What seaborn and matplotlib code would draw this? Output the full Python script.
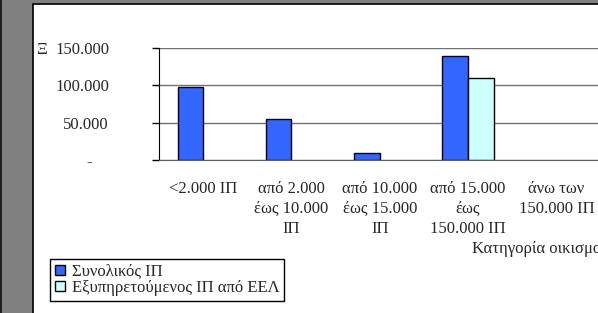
import pandas as pd
import matplotlib
matplotlib.use('Agg')
import matplotlib.pyplot as plt
import matplotlib.patches as mpatches
import seaborn as sns

# Data
categories = ['<2.000 ΙΠ', 'από 2.000\nέως 10.000\nΙΠ', 'από 10.000\nέως 15.000\nΙΠ',
              'από 15.000\nέως\n150.000 ΙΠ', 'άνω των\n150.000 ΙΠ']
total_pe = [97500, 54500, 9500, 139800, None]
served_pe = [None, None, None, 109400, None]
series_names = ['Συνολικός ΙΠ', 'Εξυπηρετούμενος ΙΠ από ΕΕΛ']
y_ticks = [0, 50000, 100000, 150000]
y_tick_labels = ['-    ', '50.000', '100.000', '150.000']

df = pd.DataFrame({
    'cat': categories * 2,
    'value': total_pe + served_pe,
    'series': [series_names[0]] * 5 + [series_names[1]] * 5,
})

sns.set_style('white')
plt.rcParams['font.family'] = ['Liberation Serif', 'DejaVu Serif']
plt.rcParams['font.size'] = 12

W, H = 598, 313
fig = plt.figure(figsize=(W / 100, H / 100), dpi=100)
fig.patch.set_facecolor('#808080')

# white chart area with dark border (screenshot frame)
fig.patches.append(mpatches.Rectangle((32.5 / W, -0.1), 1.1, 1.1 - 4.5 / H, transform=fig.transFigure,
                                      facecolor='white', edgecolor='black', linewidth=1.2, zorder=-10))
fig.patches.append(mpatches.Rectangle((0, 0), 1.5 / W, 1, transform=fig.transFigure,
                                      facecolor='#202020', edgecolor='none', zorder=-10))

ax = fig.add_axes([159 / W, 1 - 160 / H, (600.5 - 159) / W, (160 - 48) / H])
ax.set_facecolor('none')

sns.barplot(data=df, x='cat', y='value', hue='series', order=categories,
            hue_order=series_names, palette=['#3366FF', '#CCFFFF'], saturation=1,
            edgecolor='black', linewidth=1, width=0.58, errorbar=None, ax=ax)

ax.set_ylim(0, 150000)
ax.set_xlim(-0.5, 4.5)
ax.set_yticks(y_ticks)
ax.set_yticklabels(y_tick_labels)
ax.set_xticks(range(5))
ax.set_xticks([i - 0.5 for i in range(6)], minor=True)
ax.tick_params(axis='x', which='major', length=0, pad=15)
ax.tick_params(axis='x', which='minor', length=5, direction='out', color='black', width=1)
ax.tick_params(axis='y', length=5, direction='out', color='black', width=1, pad=31, left=True)
for lab in ax.get_xticklabels():
    lab.set_linespacing(1.32)

ax.yaxis.grid(True, color='#707070', linewidth=1)
ax.set_axisbelow(True)
for s in ['top', 'right']:
    ax.spines[s].set_visible(False)
ax.spines['left'].set_color('black')
ax.spines['bottom'].set_color('#606060')
ax.set_xlabel('')
ax.set_ylabel('')

fig.text(472 / W, 1 - 249 / H, 'Κατηγορία οικισμού', ha='left', va='center')
fig.text(42.5 / W, 1 - 50 / H, 'Ξ', ha='center', va='center', fontsize=12)

handles, labels = ax.get_legend_handles_labels()
ax.legend(handles, labels, loc='upper left', bbox_to_anchor=(50 / W, 1 - 259 / H),
          bbox_transform=fig.transFigure, frameon=True, fancybox=False, edgecolor='black',
          borderpad=0.3, labelspacing=0.0, handlelength=0.6, handleheight=0.6,
          handletextpad=0.4, borderaxespad=0, framealpha=1)
ax.get_legend().get_frame().set_linewidth(1)

fig.savefig('out.png', dpi=100, facecolor=fig.get_facecolor())
